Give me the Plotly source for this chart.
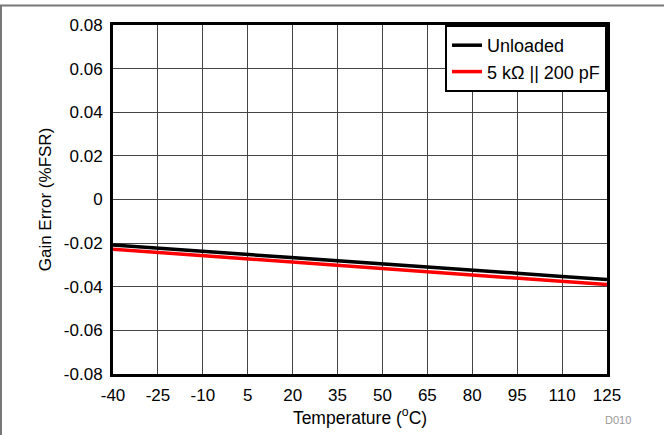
import plotly.graph_objects as go

temperature = [-40, -25, -10, 5, 20, 35, 50, 65, 80, 95, 110, 125]
unloaded = [-0.0209, -0.0223, -0.0238, -0.0252, -0.0266, -0.0281, -0.0295, -0.0310, -0.0324, -0.0338, -0.0353, -0.0367]
loaded_5k_200p = [-0.0228, -0.0243, -0.0257, -0.0272, -0.0287, -0.0302, -0.0316, -0.0331, -0.0346, -0.0360, -0.0375, -0.0390]
x_ticks = [-40, -25, -10, 5, 20, 35, 50, 65, 80, 95, 110, 125]
x_tick_text = ["-40", "-25", "-10", "5", "20", "35", "50", "65", "80", "95", "110", "125"]
y_ticks = [0.08, 0.06, 0.04, 0.02, 0, -0.02, -0.04, -0.06, -0.08]
y_tick_text = ["0.08", "0.06", "0.04", "0.02", "0", "-0.02", "-0.04", "-0.06", "-0.08"]

FONT = "Liberation Sans, Arial, sans-serif"

fig = go.Figure()
fig.add_trace(go.Scatter(x=temperature, y=unloaded, mode="lines", name="Unloaded",
                         line=dict(color="black", width=3.5)))
fig.add_trace(go.Scatter(x=temperature, y=loaded_5k_200p, mode="lines", name="5 kΩ || 200 pF",
                         line=dict(color="#ff0000", width=3.5)))

fig.update_layout(
    width=664, height=435,
    margin=dict(l=113, r=57, t=25, b=61),
    paper_bgcolor="white", plot_bgcolor="white",
    font=dict(family=FONT, size=17, color="black"),
    showlegend=True,
    legend=dict(x=1, xanchor="right", y=1, yanchor="top",
                bordercolor="black", borderwidth=2, bgcolor="white",
                font=dict(size=18), tracegroupgap=0,
                itemwidth=30),
    xaxis=dict(range=[-40, 125], tickvals=x_ticks, ticktext=x_tick_text, showgrid=True,
               gridcolor="#444", gridwidth=1,
               zeroline=False, showline=True, mirror=True, linecolor="black", linewidth=3,
               ticks="", ticklabelstandoff=4,
               title=dict(text="Temperature (<sup>o</sup>C)", font=dict(size=17.5), standoff=2)),
    yaxis=dict(range=[-0.08, 0.08], tickvals=y_ticks, ticktext=y_tick_text, showgrid=True,
               gridcolor="#444", gridwidth=1, zeroline=False, showline=True, mirror=True,
               linecolor="black", linewidth=3, ticks="", ticklabelstandoff=4,
               title=dict(text="Gain Error (%FSR)", font=dict(size=17), standoff=8)),
    shapes=[
        dict(type="line", xref="paper", yref="paper", x0=-0.25, x1=1.15,
             y0=(374 - 5.5) / 349, y1=(374 - 5.5) / 349, line=dict(color="#777", width=2)),
        dict(type="line", xref="paper", yref="paper", x0=(1 - 113) / 494, x1=(1 - 113) / 494,
             y0=-0.2, y1=(374 - 5.5) / 349, line=dict(color="#777", width=2)),
    ],
    annotations=[
        dict(text="D010", xref="paper", yref="paper", x=(618 - 113) / 494, y=(374 - 420) / 349,
             showarrow=False, font=dict(size=11, color="#999"), xanchor="center", yanchor="middle"),
    ],
)

fig.write_html("out.html", config={"displayModeBar": False},
               post_script="document.body.style.margin='0';document.body.style.overflow='hidden';")
